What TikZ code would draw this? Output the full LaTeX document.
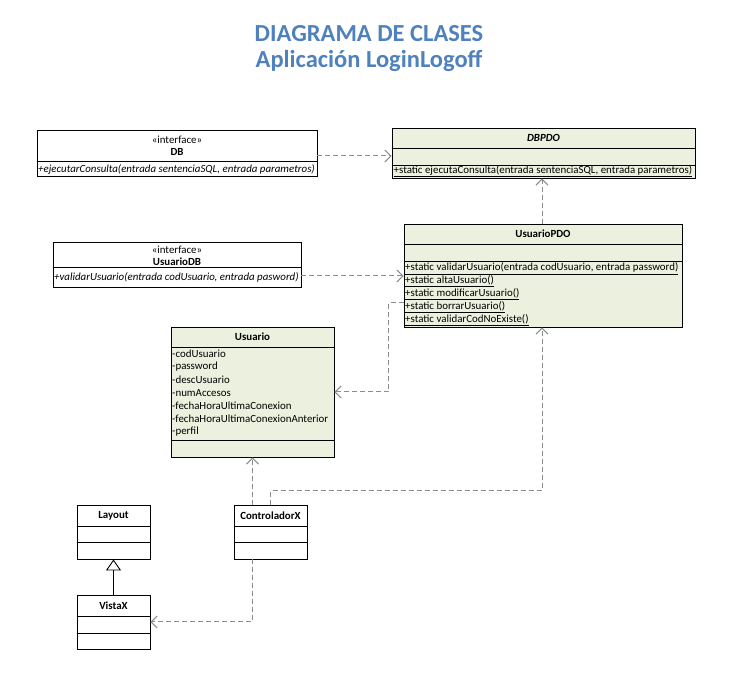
\documentclass[tikz,border=0pt]{standalone}
\usepackage{fontspec}
\setmainfont{Carlito}
\usetikzlibrary{arrows.meta}
\definecolor{titulo}{HTML}{4F81BD}
\definecolor{verde}{HTML}{EBF1DE}
\definecolor{linea}{HTML}{8C8C8C}
\tikzset{
  clase/.style={draw, line width=0.9pt, inner sep=0pt},
  clasev/.style={clase, fill=verde},
  txt/.style={inner sep=0pt, font=\fontsize{10.9}{12}\selectfont},
  fila/.style={txt, anchor=west},
  dep/.style={draw=linea, line width=1pt, dash pattern=on 5pt off 3pt,
    -{Straight Barb[length=6pt,width=12pt]}},
  hereda/.style={line width=0.9pt, -{Triangle[open,length=11pt,width=15pt]}}
}
\begin{document}
\begin{tikzpicture}[x=1pt, y=-1pt]
  \useasboundingbox (0,0) rectangle (729,692);

  % titulo
  \node[font=\fontsize{24.5}{28}\bfseries, text=titulo] (tit1) at (369,34) {DIAGRAMA DE CLASES};
  \node[font=\fontsize{24.5}{28}\bfseries, text=titulo] (tit2) at (369,61) {Aplicación LoginLogoff};

  % DB
  \node[clase, minimum width=280pt, minimum height=46pt] (db) at (177,153) {};
  \draw[line width=0.9pt] (db.west |- 0,161) -- (db.east |- 0,161);
  \node[txt] (db-st) at (177,140) {«interface»};
  \node[txt, font=\fontsize{10.9}{12}\bfseries] (db-nom) at (177,152) {DB};
  \node[fila] (db-m1) at (38,169) {\itshape +ejecutarConsulta(entrada sentenciaSQL, entrada parametros)};

  % DBPDO
  \node[clasev, minimum width=303pt, minimum height=50pt] (dbpdo) at (543.5,153) {};
  \draw[line width=0.9pt] (dbpdo.west |- 0,148) -- (dbpdo.east |- 0,148);
  \draw[line width=0.9pt] (dbpdo.west |- 0,165) -- (dbpdo.east |- 0,165);
  \node[txt, font=\fontsize{10.9}{12}\bfseries\itshape] (dbpdo-nom) at (543.5,138) {DBPDO};
  \node[fila] (dbpdo-m1) at (393.5,171) {\underline{+static ejecutaConsulta(entrada sentenciaSQL, entrada parametros)}};

  % UsuarioDB
  \node[clase, minimum width=248pt, minimum height=45pt] (usrdb) at (177,264.5) {};
  \draw[line width=0.9pt] (usrdb.west |- 0,267) -- (usrdb.east |- 0,267);
  \node[txt] (usrdb-st) at (177,250) {«interface»};
  \node[txt, font=\fontsize{10.9}{12}\bfseries] (usrdb-nom) at (177,262) {UsuarioDB};
  \node[fila] (usrdb-m1) at (54,277) {\itshape +validarUsuario(entrada codUsuario, entrada pasword)};

  % UsuarioPDO
  \node[clasev, minimum width=278pt, minimum height=103pt] (usrpdo) at (543,275.5) {};
  \draw[line width=0.9pt] (usrpdo.west |- 0,244) -- (usrpdo.east |- 0,244);
  \draw[line width=0.9pt] (usrpdo.west |- 0,261) -- (usrpdo.east |- 0,261);
  \node[txt, font=\fontsize{10.9}{12}\bfseries] (usrpdo-nom) at (543,234) {UsuarioPDO};
  \node[fila] (usrpdo-m1) at (405,268.5) {\underline{+static validarUsuario(entrada codUsuario, entrada password)}};
  \node[fila] (usrpdo-m2) at (405,281.5) {\underline{+static altaUsuario()}};
  \node[fila] (usrpdo-m3) at (405,294.5) {\underline{+static modificarUsuario()}};
  \node[fila] (usrpdo-m4) at (405,307.5) {\underline{+static borrarUsuario()}};
  \node[fila] (usrpdo-m5) at (405,320.5) {\underline{+static validarCodNoExiste()}};

  % Usuario
  \node[clasev, minimum width=163pt, minimum height=130pt] (usuario) at (252.5,392) {};
  \draw[line width=0.9pt] (usuario.west |- 0,347) -- (usuario.east |- 0,347);
  \draw[line width=0.9pt] (usuario.west |- 0,440) -- (usuario.east |- 0,440);
  \node[txt, font=\fontsize{10.9}{12}\bfseries] (usuario-nom) at (252.5,337) {Usuario};
  \node[fila] (usuario-a1) at (172,354) {-codUsuario};
  \node[fila] (usuario-a2) at (172,367) {-password};
  \node[fila] (usuario-a3) at (172,380) {-descUsuario};
  \node[fila] (usuario-a4) at (172,393) {-numAccesos};
  \node[fila] (usuario-a5) at (172,406) {-fechaHoraUltimaConexion};
  \node[fila] (usuario-a6) at (172,419) {-fechaHoraUltimaConexionAnterior};
  \node[fila] (usuario-a7) at (172,432) {-perfil};

  % Layout
  \node[clase, minimum width=73pt, minimum height=54pt] (layout) at (113.5,532) {};
  \draw[line width=0.9pt] (layout.west |- 0,526) -- (layout.east |- 0,526);
  \draw[line width=0.9pt] (layout.west |- 0,542) -- (layout.east |- 0,542);
  \node[txt, font=\fontsize{10.9}{12}\bfseries] (layout-nom) at (113.5,515.5) {Layout};

  % ControladorX
  \node[clase, minimum width=73pt, minimum height=54pt] (ctrl) at (270.5,532) {};
  \draw[line width=0.9pt] (ctrl.west |- 0,526) -- (ctrl.east |- 0,526);
  \draw[line width=0.9pt] (ctrl.west |- 0,542) -- (ctrl.east |- 0,542);
  \node[txt, font=\fontsize{10.9}{12}\bfseries] (ctrl-nom) at (270.5,515.5) {ControladorX};

  % VistaX
  \node[clase, minimum width=73pt, minimum height=54pt] (vista) at (113.5,622) {};
  \draw[line width=0.9pt] (vista.west |- 0,616) -- (vista.east |- 0,616);
  \draw[line width=0.9pt] (vista.west |- 0,633) -- (vista.east |- 0,633);
  \node[txt, font=\fontsize{10.9}{12}\bfseries] (vista-nom) at (113.5,605.5) {VistaX};

  % relaciones
  \draw[dep] (db.east |- 0,156) -- (dbpdo.west |- 0,156);
  \draw[dep] (usrpdo.north -| 542,0) -- (dbpdo.south -| 542,0);
  \draw[dep] (usrdb.east |- 0,276) -- (usrpdo.west |- 0,276);
  \draw[dep] (usrpdo.west |- 0,303) -- ++(-15,0) |- (usuario.east |- 0,392);
  \draw[dep] (ctrl.north -| usuario.south) -- (usuario.south);
  \draw[dep] (ctrl.north) -- ++(0,-14) -| (usrpdo.south -| 542,0);
  \draw[dep] (ctrl.south -| usuario.south) |- (vista.east);
  \draw[hereda] (vista.north) -- (layout.south);
\end{tikzpicture}
\end{document}
